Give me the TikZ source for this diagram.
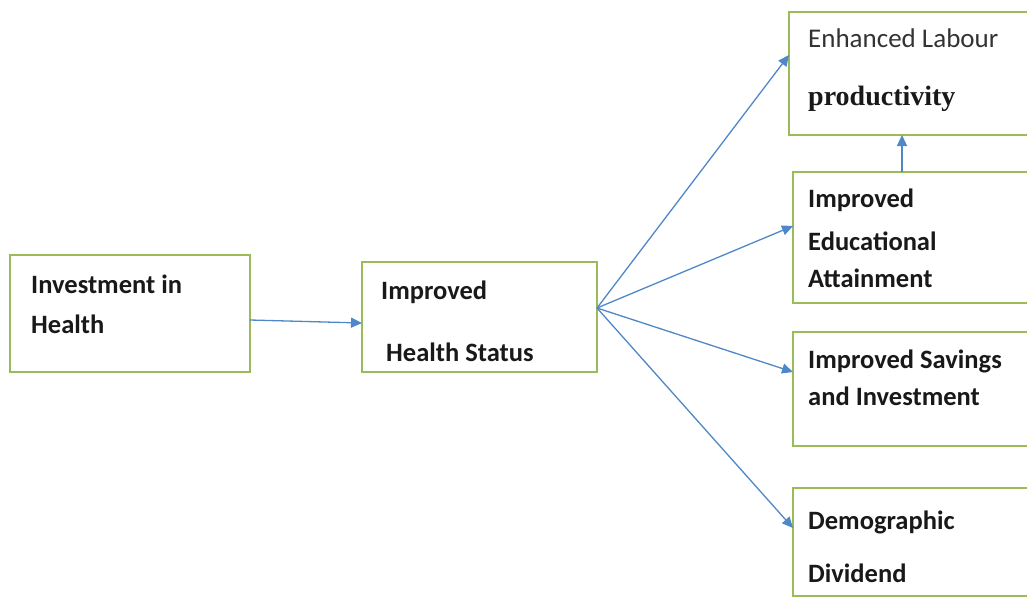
\documentclass[tikz,border=0pt]{standalone}
\usepackage{fontspec}
\setmainfont{Carlito}
\newfontfamily\serifb{Liberation Serif}
\usetikzlibrary{arrows.meta}
\definecolor{boxgreen}{RGB}{155,187,89}
\definecolor{arrowblue}{RGB}{79,135,200}
\begin{document}
\begin{tikzpicture}[x=1pt,y=-1pt,
  box/.style={draw=boxgreen,line width=1.3pt,fill=white},
  lbl/.style={anchor=base west,inner sep=0pt,font=\fontsize{26.5}{30}\selectfont\bfseries,text=black!90},
  link/.style={draw=arrowblue,line width=1.3pt,-{Triangle[length=11pt,width=10pt]}}]
\useasboundingbox (0,0) rectangle (1027,598);
% boxes
\draw[box] (10,255) rectangle (250,372) node[pos=0.5] (b1) {};
\draw[box] (362,262) rectangle (597,372) node[pos=0.5] (b2) {};
\draw[box] (789,12) rectangle (1030,135) node[pos=0.5] (b3) {};
\draw[box] (793,172) rectangle (1030,303) node[pos=0.5] (b4) {};
\draw[box] (793,332) rectangle (1030,446) node[pos=0.5] (b5) {};
\draw[box] (793,488) rectangle (1030,596) node[pos=0.5] (b6) {};
% texts
\node[lbl] (t1a) at (31,293) {Investment in};
\node[lbl] (t1b) at (31,333) {Health};
\node[lbl] (t2a) at (381,299) {Improved};
\node[lbl] (t2b) at (386,361) {Health Status};
\node[lbl,font=\fontsize{27}{30}\selectfont,text=black!80] (t3a) at (808,47) {Enhanced Labour};
\node[lbl,font=\serifb\fontsize{28}{30}\selectfont\bfseries] (t3b) at (808,105) {productivity};
\node[lbl] (t4a) at (808,207) {Improved};
\node[lbl] (t4b) at (808,250) {Educational};
\node[lbl] (t4c) at (808,287) {Attainment};
\node[lbl] (t5a) at (808,368) {Improved Savings};
\node[lbl] (t5b) at (808,405) {and Investment};
\node[lbl] (t6a) at (808,529) {Demographic};
\node[lbl] (t6b) at (808,582) {Dividend};
% connector points
\coordinate (o1) at (250,320);
\coordinate (i2) at (362,323);
\coordinate (hub) at (597,308);
\coordinate (i3) at (789,55);
\coordinate (i4) at (793,226);
\coordinate (i5) at (793,372);
\coordinate (i6) at (793,528);
\coordinate (o4) at (902,172);
\coordinate (i3b) at (902,135);
% connectors
\draw[link] (o1) -- (i2);
\draw[link] (hub) -- (i3);
\draw[link] (hub) -- (i4);
\draw[link] (hub) -- (i5);
\draw[link] (hub) -- (i6);
\draw[link] (o4) -- (i3b);
\end{tikzpicture}
\end{document}
